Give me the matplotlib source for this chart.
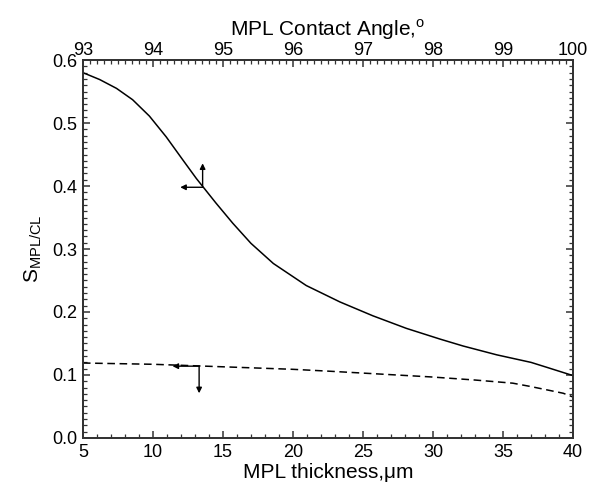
import matplotlib.pyplot as plt
from matplotlib.ticker import MultipleLocator

plt.rcParams['font.family'] = ['Liberation Sans', 'DejaVu Sans']
plt.rcParams['mathtext.fontset'] = 'custom'
plt.rcParams['mathtext.rm'] = 'Liberation Sans'

# saturation vs MPL contact angle (top axis)
angle = [93.0, 93.24, 93.48, 93.71, 93.95, 94.19, 94.43, 94.62, 94.90, 95.14, 95.40,
         95.72, 96.19, 96.67, 97.14, 97.62, 98.10, 98.43, 98.91, 99.40, 99.63, 100.0]
s_angle = [0.580, 0.569, 0.555, 0.537, 0.511, 0.478, 0.441, 0.412, 0.373, 0.341, 0.309,
           0.277, 0.242, 0.216, 0.194, 0.174, 0.157, 0.146, 0.132, 0.120, 0.112, 0.099]

# saturation vs MPL thickness (bottom axis)
thickness = [5, 10, 15, 20, 22.6, 25, 29.8, 33, 35.7, 36.9, 38, 39.3, 40]
s_thick = [0.119, 0.117, 0.113, 0.109, 0.106, 0.103, 0.097, 0.092, 0.087, 0.082, 0.077, 0.071, 0.065]

axis_col = '#333333'

fig = plt.figure(figsize=(5.92, 4.88), dpi=100)
ax = fig.add_axes([0.140, 0.1025, 0.828, 0.7745])
ax2 = ax.twiny()

ax.plot(thickness, s_thick, color='black', lw=1.1, ls=(0, (5, 3)))
ax2.plot(angle, s_angle, color='black', lw=1.1)

ax.set_xlim(5, 40)
ax.set_ylim(0.0, 0.6)
ax2.set_xlim(93, 100)

ax.xaxis.set_major_locator(MultipleLocator(5))
ax.xaxis.set_minor_locator(MultipleLocator(1))
ax.yaxis.set_major_locator(MultipleLocator(0.1))
ax.yaxis.set_minor_locator(MultipleLocator(0.01))
ax.yaxis.set_major_formatter(plt.FuncFormatter(lambda v, p: f'{v:.1f}'))
ax2.xaxis.set_major_locator(MultipleLocator(1))
ax2.xaxis.set_minor_locator(MultipleLocator(0.1))

for a in (ax, ax2):
    for sp in a.spines.values():
        sp.set_color(axis_col)
        sp.set_linewidth(1.3)
    a.tick_params(which='major', direction='in', length=5, width=1.1, color=axis_col,
                  labelsize=13, pad=4)
    a.tick_params(which='minor', direction='in', length=3, width=0.9, color=axis_col)

ax.tick_params(which='both', top=False, right=True)
ax2.tick_params(which='both', top=True, bottom=False, labelbottom=False)
ax2.tick_params(axis='x', pad=1)

ax.set_xlabel('MPL thickness,\u03bcm', fontsize=15, labelpad=2)
ax2.set_xlabel('MPL Contact Angle,$^{\\mathregular{o}}$', fontsize=15, labelpad=4)
ax.set_ylabel('S$_{\\mathregular{MPL/CL}}$', fontsize=15, labelpad=6)

arrow = dict(arrowstyle='-|>', color='black', lw=1.0, mutation_scale=8, shrinkA=0, shrinkB=0)

# arrows pointing to the axes each curve belongs to
ax2.annotate('', xy=(94.39, 0.398), xytext=(94.71, 0.398), arrowprops=arrow)
ax2.annotate('', xy=(94.71, 0.436), xytext=(94.71, 0.398), arrowprops=arrow)
ax.annotate('', xy=(11.4, 0.114), xytext=(13.3, 0.114), arrowprops=arrow)
ax.annotate('', xy=(13.3, 0.071), xytext=(13.3, 0.114), arrowprops=arrow)

fig.savefig('out.png', dpi=100)
